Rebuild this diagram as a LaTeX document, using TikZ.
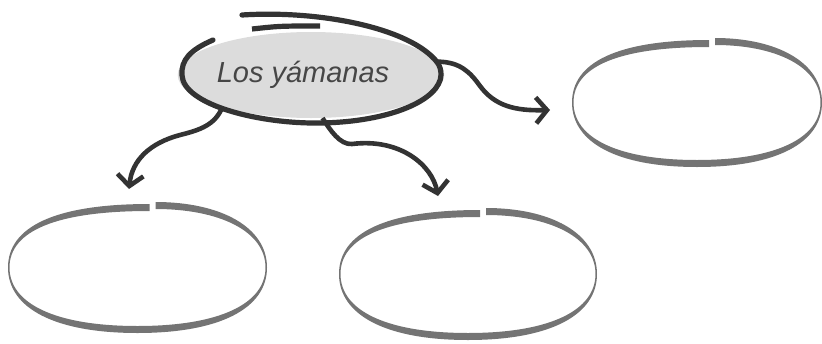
\documentclass[tikz,border=0pt]{standalone}
\usepackage{fontspec}
\setmainfont{Liberation Sans}
\usetikzlibrary{shapes.geometric,arrows.meta}
\definecolor{inkdark}{HTML}{333333}
\definecolor{inktext}{HTML}{464646}
\definecolor{inkgray}{HTML}{747474}
\definecolor{fillgray}{HTML}{DCDCDC}
\tikzset{
  mainnode/.style={ellipse, fill=fillgray, draw=none, minimum width=258pt, minimum height=86pt, inner sep=0pt, text=inktext, font=\fontsize{29}{34}\selectfont\itshape},
  blobnode/.style={ellipse, draw=none, minimum width=254pt, minimum height=128pt, inner sep=0pt},
  mainline/.style={draw=inkdark, line width=5.2pt, line cap=round},
  blobfill/.style={fill=inkgray, draw=none},
  conn/.style={draw=inkdark, line width=4.6pt, -{Straight Barb[length=11pt,width=26pt]}},
  pics/blob/.style n args={2}{code={
    \fill[blobfill] (18,{-#2}) .. controls ({0.64*#1},{-#2}) and (#1,{-0.62*#2}) .. (#1,0)
      .. controls (#1,{0.62*#2}) and ({0.64*#1},#2) .. (0,#2)
      .. controls ({-0.64*#1},#2) and ({-#1},{0.62*#2}) .. ({-#1},0)
      .. controls ({-#1},{-0.62*#2}) and ({-0.64*#1},{-#2+2}) .. (12,{-#2+2})
      -- (12,{-#2+9})
      .. controls ({-0.64*(#1-1.5)},{-#2+9}) and ({-#1+1.5},{-0.62*(#2-7)}) .. ({-#1+1.5},0)
      .. controls ({-#1+1.5},{0.62*(#2-7)}) and ({-0.64*(#1-1.5)},{#2-7}) .. (0,{#2-7})
      .. controls ({0.64*(#1-1.5)},{#2-7}) and ({#1-1.5},{0.62*(#2-7)}) .. ({#1-1.5},0)
      .. controls ({#1-1.5},{-0.62*(#2-7)}) and ({0.64*(#1-1.5)},{-#2+7}) .. (18,{-#2+7})
      -- cycle;
  }}
}
\begin{document}
\begin{tikzpicture}[x=1pt,y=-1pt]
\useasboundingbox (0,0) rectangle (822,343);
% central node
\node[mainnode] (main) at (311,75) {Los yámanas\kern16pt};
% outline strokes of the central node
\draw[mainline] (213,40) .. controls (190,50) and (181,60) .. (182,75)
  .. controls (183,105) and (260,124) .. (320,123)
  .. controls (390,122) and (440,100) .. (441,75)
  .. controls (441,70) and (440,66) .. (437,62);
\draw[mainline] (242,15) .. controls (320,10) and (410,28) .. (437,62);
\draw[mainline, line cap=butt] (252,29) .. controls (280,26) .. (320,26);
% empty blobs
\node[blobnode] (A) at (697,102.5) {};
\node[blobnode] (B) at (137.5,267.5) {};
\node[blobnode] (C) at (468,274) {};
\pic at (A) {blob={125}{64.5}};
\pic at (B) {blob={129.5}{65.5}};
\pic at (C) {blob={129}{66}};
% arrow ends
\coordinate (tA) at (550,110);
\coordinate (tB) at (129,189);
\coordinate (tC) at (438,196);
% connectors
\draw[conn] (main.6) .. controls (460,62) and (470,72) .. (480,86)
  .. controls (495,106) and (515,111) .. (tA);
\draw[conn] (main.200) .. controls (215,125) and (200,130) .. (180,135)
  .. controls (150,143) and (132,160) .. (tB);
\draw[conn] (main.285) .. controls (330,130) and (340,145) .. (352,144)
  .. controls (400,138) and (432,165) .. (tC);
\end{tikzpicture}
\end{document}
